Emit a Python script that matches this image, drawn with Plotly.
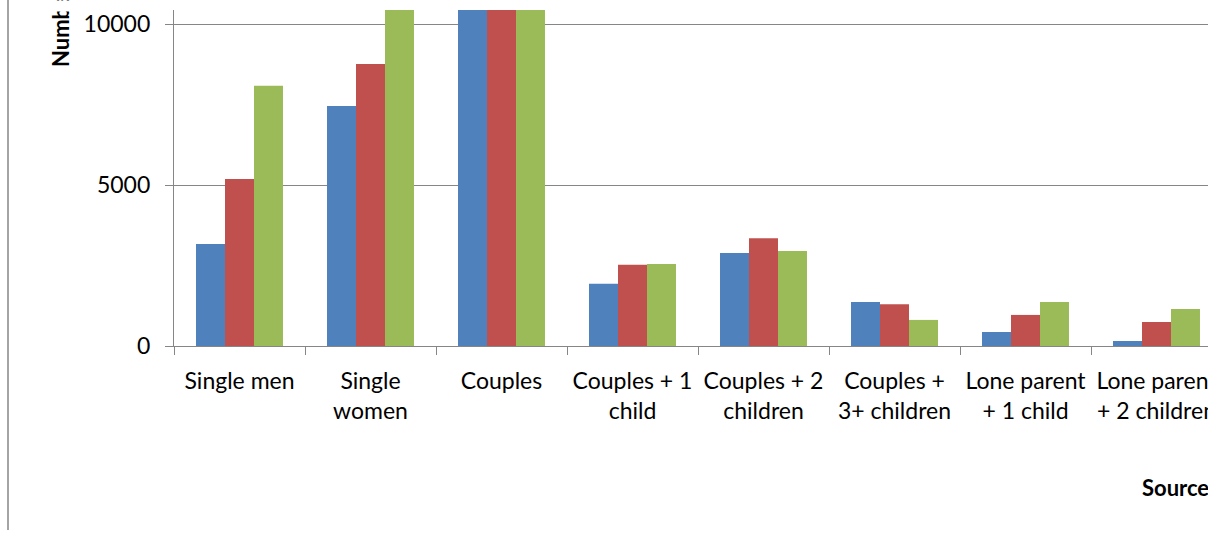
import plotly.graph_objects as go

categories = ["Single men", "Single<br>women", "Couples", "Couples + 1<br>child",
              "Couples + 2<br>children", "Couples +<br>3+ children",
              "Lone parent<br>+ 1 child", "Lone parent<br>+ 2 children"]
series_names = ["Series 1", "Series 2", "Series 3"]
series1 = [3170, 7450, 16000, 1930, 2890, 1370, 435, 155]
series2 = [5190, 8760, 17500, 2520, 3350, 1300, 965, 745]
series3 = [8080, 11200, 19000, 2550, 2950, 810, 1370, 1150]
colors = ["#4F81BD", "#C0504D", "#9BBB59"]
y_ticks = [0, 5000, 10000]

W, H = 1208, 533
L, T, B = 174, 10, 187
plot_w = W - L
plot_h = H - T - B

fig = go.Figure()
for name, vals, c in zip(series_names, [series1, series2, series3], colors):
    fig.add_trace(go.Bar(x=categories, y=vals, name=name, marker=dict(color=c, line=dict(width=0))))

font = "Lato, Open Sans, sans-serif"
fsz = 23
fig.update_layout(
    width=W, height=H,
    margin=dict(l=L, r=0, t=T, b=B, autoexpand=False),
    barmode="group", bargap=0.336, bargroupgap=0,
    showlegend=False,
    plot_bgcolor="white", paper_bgcolor="white",
    font=dict(family=font, size=fsz, color="#000000"),
    xaxis=dict(type="category", range=[-0.5, -0.5 + plot_w / 131.0],
               tickson="boundaries", ticks="outside", ticklen=8, tickcolor="#868686",
               showline=True, linecolor="#868686", linewidth=1.3, showgrid=False,
               tickfont=dict(size=fsz), ticklabelstandoff=14, tickangle=0,
               automargin=False),
    yaxis=dict(range=[0, 10435], tickvals=y_ticks, ticktext=[str(v) for v in y_ticks],
               ticks="outside", ticklen=8, tickcolor="#868686",
               showline=True, linecolor="#868686", linewidth=1.3,
               showgrid=True, gridcolor="#868686", gridwidth=1.3,
               zeroline=False, tickfont=dict(size=fsz), ticklabelstandoff=10,
               automargin=False),
)

def px_x(px):
    return (px - L) / plot_w

def px_y(py):
    return (H - B - py) / plot_h

fig.add_shape(type="line", xref="paper", yref="paper",
              x0=px_x(8), x1=px_x(8), y0=px_y(0), y1=px_y(530),
              line=dict(color="#868686", width=1.5))

fig.add_annotation(text="<b>Number of households</b>", textangle=-90,
                   xref="paper", yref="paper", x=px_x(60), y=px_y(69),
                   xanchor="center", yanchor="bottom", showarrow=False,
                   font=dict(size=fsz - 1, family=font))
# white strip emulating the clipping of the original frame above the title
fig.add_annotation(text=" ", xref="paper", yref="paper", x=px_x(60), y=px_y(0),
                   xanchor="center", yanchor="top", showarrow=False,
                   width=50, height=10, bgcolor="white", borderpad=0)
fig.add_annotation(text="<b>Source: survey data</b>",
                   xref="paper", yref="paper", x=px_x(1140), y=px_y(487),
                   xanchor="left", yanchor="middle", showarrow=False,
                   font=dict(size=fsz - 1, family=font))

fig.write_html("out.html", config={"displayModeBar": False},
               post_script="document.body.style.margin='0';")
